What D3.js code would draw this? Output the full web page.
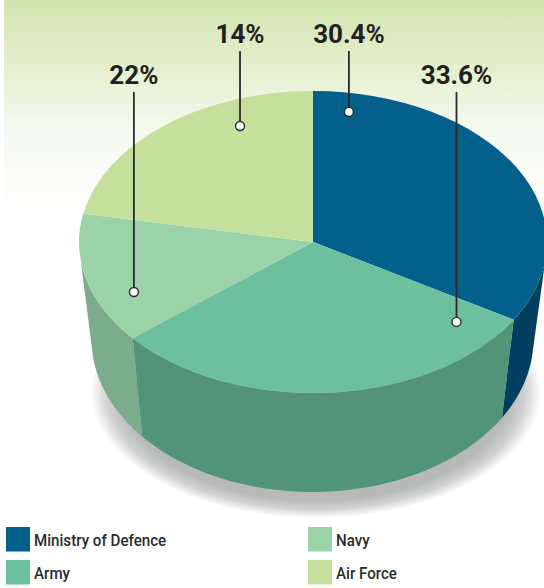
<!DOCTYPE html>
<html><head><meta charset="utf-8">
<script src="https://cdn.jsdelivr.net/npm/d3@7/dist/d3.min.js"></script>
<style>html,body{margin:0;padding:0;background:#fff;overflow:hidden}svg{display:block}</style>
</head><body><svg id="c" width="544" height="588"></svg>
<script>
const categories = ["Ministry of Defence","Army","Navy","Air Force"];
const shares = [33.6,30.4,14,22];
const topColors = ["#02608a","#6cc09d","#9bd3a9","#c5df9d"];
const sideColors = ["#003f5f","#52947a","#7dac8c","#c5df9d"];
const calloutLabels = ["33.6%","30.4%","22%","14%"];

const svg = d3.select("#c");
const defs = svg.append("defs");
const bg = defs.append("linearGradient").attr("id","bg").attr("x1",0).attr("x2",0).attr("y1",0).attr("y2",1);
[[0,"#d0e4af"],[.27,"#e2eeca"],[.58,"#f4f9ef"],[.82,"#fcfdf9"],[1,"#ffffff"]].forEach(s=>
  bg.append("stop").attr("offset",s[0]).attr("stop-color",s[1]));
const sg = defs.append("radialGradient").attr("id","sh");
[[0,"#b8b9b9"],[.86,"#b8b9b9"],[.93,"#d0d1d1"],[1,"#ffffff"]].forEach(s=>
  sg.append("stop").attr("offset",s[0]).attr("stop-color",s[1]));
svg.append("rect").attr("x",4).attr("width",540).attr("height",222).attr("fill","url(#bg)");

const TOP = {cx:313,cy:242,rx:234,ry:151};
const BOT = {cx:312.5,cy:339,rx:221,ry:153};
const pt = (e,t,r=1)=>[e.cx+e.rx*r*Math.sin(t), e.cy-e.ry*r*Math.cos(t)];
const rad = d=>d*Math.PI/180;

const color = d3.scaleOrdinal().domain(categories).range(topColors);
const side = d3.scaleOrdinal().domain(categories).range(sideColors);
const pie = d3.pie().sort(null).value((d,i)=>shares[i]);
const arcs = pie(categories);

// ground shadow
svg.append("ellipse").attr("cx",316).attr("cy",392).attr("rx",225).attr("ry",126).attr("fill","url(#sh)");

// side walls
const line = d3.line();
const LIM0 = rad(97), LIM1 = rad(263);
arcs.forEach(a=>{
  const a0 = Math.max(a.startAngle,LIM0), a1 = Math.min(a.endAngle,LIM1);
  if(a1<=a0) return;
  const ts = d3.range(0,61).map(i=>a0+(a1-a0)*i/60);
  const poly = ts.map(t=>pt(TOP,t)).concat(ts.slice().reverse().map(t=>pt(BOT,t)));
  svg.append("path").attr("d",line(poly)+"Z").attr("fill",side(a.data));
});

// top face
const arc = d3.arc().innerRadius(0).outerRadius(TOP.rx);
svg.append("g").attr("transform",`translate(${TOP.cx},${TOP.cy}) scale(1,${TOP.ry/TOP.rx})`)
  .selectAll("path").data(arcs).join("path").attr("d",arc).attr("fill",d=>color(d.data));

// callouts
const anchors = [[130.8,.81,92],[10.1,.875,51],[246.6,.834,92],[337.9,.829,51]];
calloutLabels.forEach((lab,i)=>{
  const [deg,r,top] = anchors[i];
  const [x,y] = pt(TOP,rad(deg),r);
  svg.append("line").attr("x1",x).attr("x2",x).attr("y1",top).attr("y2",y).attr("stroke","#2a2a2c").attr("stroke-width",1.8);
  svg.append("circle").attr("cx",x).attr("cy",y).attr("r",4.5).attr("fill","#fff").attr("stroke","#2a2a2c").attr("stroke-width",1.4);
  svg.append("text").attr("x",x).attr("y",top-8).attr("text-anchor","middle")
    .attr("font-family","Roboto").attr("font-weight",700).attr("font-size",26).attr("fill","#231f20").text(lab);
});

// legend
const lx = d3.scaleOrdinal().domain(categories).range([6,6,308,308]);
const ly = d3.scaleOrdinal().domain(categories).range([527,560,527,560]);
const leg = svg.append("g").selectAll("g").data(categories).join("g")
  .attr("transform",d=>`translate(${lx(d)},${ly(d)})`);
leg.append("rect").attr("width",24).attr("height",24.5).attr("fill",d=>color(d));
leg.append("text").attr("x",28).attr("y",19).attr("font-family","Roboto").attr("font-weight",500)
  .attr("font-size",17).attr("fill","#2b2b2d").text(d=>d)
  .each(function(){const w=this.getComputedTextLength();d3.select(this).attr("textLength",w*0.89).attr("lengthAdjust","spacingAndGlyphs")});
</script></body></html>
